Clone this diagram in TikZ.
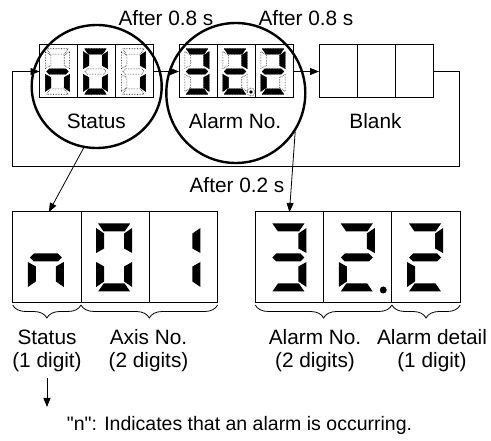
\documentclass[tikz,border=0pt]{standalone}
\usepackage{fontspec}
\setmainfont{Liberation Sans}
\usepackage{tikz}
\usetikzlibrary{shapes.geometric}
\usetikzlibrary{arrows.meta}
\usetikzlibrary{decorations.pathreplacing}

% straight double quote, past the tex-text mapping
\newcommand\dq{\XeTeXglyph\XeTeXglyphindex "quotedbl"\relax}

% segment outlines of one digit, y grows downwards
\def\sega{(-16,-34) -- (16,-34) -- (10.5,-26) -- (-10.5,-26) -- cycle}
\def\segb{(18,-29.5) -- (10,-24) -- (10,-9) -- (18,-4.5) -- cycle}
\def\segc{(18,29.5) -- (10,24) -- (10,9) -- (18,4.5) -- cycle}
\def\segd{(-16,34) -- (16,34) -- (10.5,26) -- (-10.5,26) -- cycle}
\def\sege{(-18,29.5) -- (-10,24) -- (-10,9) -- (-18,4.5) -- cycle}
\def\segf{(-18,-29.5) -- (-10,-24) -- (-10,-9) -- (-18,-4.5) -- cycle}
\def\segg{(-16,0) -- (-12,-4) -- (12,-4) -- (16,0) -- (12,4) -- (-12,4) -- cycle}

\tikzset{
  pics/digit/.style={code={
    \foreach \s in {#1} {\expandafter\fill\csname seg\s\endcsname;}
  }},
  pics/lcd/.style={code={
    \begin{scope}[densely dotted, line width=0.6pt]
      \foreach \s in {a,b,c,d,e,f,g} {\expandafter\draw\csname seg\s\endcsname;}
    \end{scope}
    \foreach \s in {#1} {\expandafter\filldraw\csname seg\s\endcsname;}
  }},
}

\begin{document}
\begin{tikzpicture}[x=1pt,y=-1pt,
  font=\fontsize{20.8}{23}\selectfont,
  cell/.style={draw, line width=1pt, minimum width=38pt, minimum height=53pt, inner sep=0pt, outer sep=0pt},
  bigcell/.style={draw, line width=1pt, minimum width=68.3pt, minimum height=91pt, inner sep=0pt, outer sep=0pt},
  ring/.style={draw, ellipse, line width=2.4pt, inner sep=0pt},
  arr/.style={-{Triangle[length=9pt,width=7pt]}, line width=0.8pt},
  brc/.style={decorate, decoration={brace, mirror, amplitude=13pt}, line width=0.8pt},
  lbl/.style={align=center, anchor=north, inner sep=0pt},
]
\useasboundingbox (0,0) rectangle (491,441);

% small displays
\foreach \d/\x in {st/39.5, al/179, bl/319}
  \foreach \k in {1,2,3}
    \node[cell] (\d\k) at (\x+38*\k-19, 71.5) {};
\pic[scale=0.67] at ([xshift=-1pt]st1) {lcd={c,e,g}};
\pic[scale=0.67] at ([xshift=-1pt]st2) {lcd={a,b,c,d,e,f}};
\pic[scale=0.67] at ([xshift=-1pt]st3) {lcd={b,c}};
\pic[scale=0.67] at ([xshift=-1pt]al1) {lcd={a,b,c,d,g}};
\pic[scale=0.67] at ([xshift=-1pt]al2) {lcd={a,b,d,e,g}};
\pic[scale=0.67] at ([xshift=-1pt]al3) {lcd={a,b,d,e,g}};
\fill ([xshift=15pt,yshift=-20.5pt]al2.center) circle (1.8);
\draw[densely dotted, line width=0.6pt] ([xshift=15pt,yshift=-20.5pt]al2.center) circle (4);

\node (lst) at (96.3,121) {Status};
\node (lal) at (235,121) {Alarm No.};
\node (lbl) at (375.5,121) {Blank};
\node (t1) at (166,18.5) {After 0.8 s};
\node (t2) at (306,18.5) {After 0.8 s};

% loop
\coordinate (loopR) at (459,166);
\coordinate (loopL) at (12.7,71.5);
\draw[arr] (st3.east) -- (al1.west);
\draw[arr] (al3.east) -- (bl1.west);
\draw[arr] (bl3.east) -| (loopR) -| (loopL) -- (st1.west);

\node[ring, minimum width=130pt, minimum height=123pt] (c1) at (96.7,86.5) {};
\node[ring, minimum width=139pt, minimum height=140pt] (c2) at (235.8,93) {};

% big displays
\foreach \d/\x in {sa/12.7, sb/255.3}
  \foreach \k in {1,2,3}
    \node[bigcell] (\d\k) at (\x+68.3*\k-34.15, 257.5) {};
\pic at ([xshift=-1pt]sa1) {digit={c,e,g}};
\pic at ([xshift=-1pt]sa2) {digit={a,b,c,d,e,f}};
\pic at ([xshift=-1pt]sa3) {digit={b,c}};
\pic at ([xshift=-1pt]sb1) {digit={a,b,c,d,g}};
\pic at ([xshift=-1pt]sb2) {digit={a,b,d,e,g}};
\pic at ([xshift=-1pt]sb3) {digit={a,b,d,e,g}};
\fill ([xshift=25.5pt,yshift=-32.5pt]sb2.center) circle (3.5);

\draw[arr] (c1.-102) -- ([xshift=2pt]sa1.north);
\draw[arr] (c2.-33) -- (sb1.north);
\node (t3) at (237,185.5) {After 0.2 s};

% braces
\draw[brc] ([yshift=-2pt]sa1.south west) -- ([yshift=-2pt]sa1.south east);
\draw[brc] ([yshift=-2pt]sa2.south west) -- ([yshift=-2pt]sa3.south east);
\draw[brc] ([yshift=-2pt]sb1.south west) -- ([yshift=-2pt]sb2.south east);
\draw[brc] ([yshift=-2pt]sb3.south west) -- ([yshift=-2pt]sb3.south east);

\node[lbl] (lsa) at (47,329.5) {Status\\(1 digit)};
\node[lbl] (lax) at (148.5,329.5) {Axis No.\\(2 digits)};
\node[lbl] (lan) at (315,329.5) {Alarm No.\\(2 digits)};
\node[lbl] (lad) at (432,329.5) {Alarm detail\\(1 digit)};

\coordinate (ntop) at (47,378);
\coordinate (ntip) at (47,407);
\draw[arr] (lsa.south |- ntop) -- (lsa.south |- ntip);
\node[font=\fontsize{19.5}{22}\selectfont] (note) at (239.5,425.5) {\dq n\dq: Indicates that an alarm is occurring.};
\end{tikzpicture}
\end{document}
